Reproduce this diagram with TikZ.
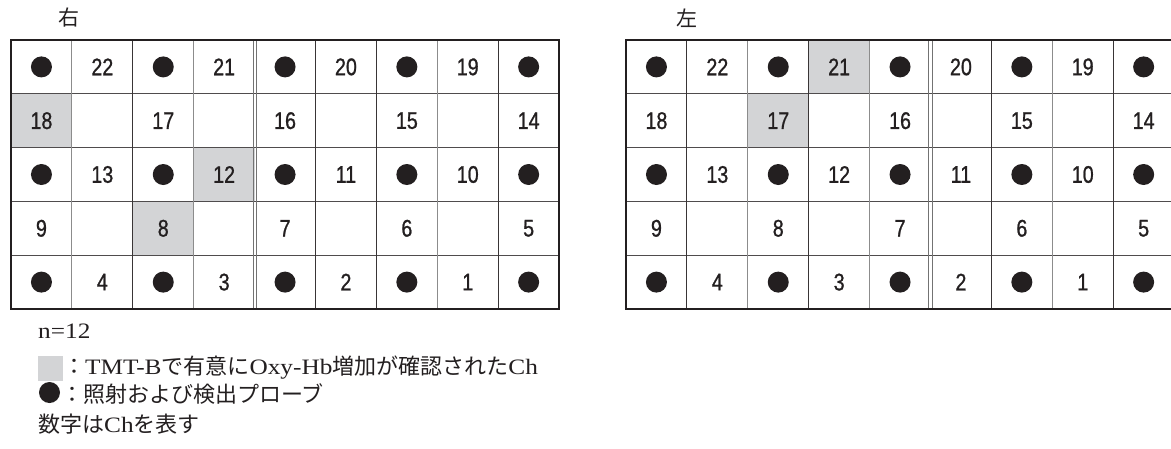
\documentclass[tikz,border=0pt]{standalone}
\usepackage{fontspec}
\setmainfont{Liberation Serif}
\newfontfamily\jp{Noto Sans CJK JP}
\newfontfamily\lat[FakeStretch=1.15]{Liberation Serif}
\newfontfamily\cellfont[FakeStretch=0.82,FakeBold=0.9]{Liberation Sans}
\definecolor{hlgray}{HTML}{D3D4D6}
\definecolor{ink}{HTML}{231F20}
\tikzset{
  cellnum/.style={font=\cellfont\fontsize{24}{24}\selectfont, text=ink, inner sep=0pt},
  probe/.style={circle, fill=ink, minimum size=21pt, inner sep=0pt},
  hlcell/.style={fill=hlgray, draw=none},
  outerline/.style={line width=2.6pt, draw=ink},
  darkline/.style={line width=1pt, draw=ink!90},
  grayline/.style={line width=1.1pt, draw=black!45},
  hline/.style={line width=1pt, draw=ink!80},
  dblline/.style={line width=1pt, draw=black!55},
  sidelabel/.style={font=\jp\fontsize{21}{21}\selectfont, text=ink, inner sep=0pt},
  legend/.style={font=\lat\fontsize{22}{22}\selectfont, text=ink, inner sep=0pt, anchor=west},
}
\def\Pmark{P}
\begin{document}
\begin{tikzpicture}[x=1pt,y=-1pt]
\useasboundingbox (0,0) rectangle (1171,448);
\fill[white] (0,0) rectangle (1171,448);
\def\W{60.9}
\def\H{53.8}
\def\Yt{40}
% ---------- highlighted cells ----------
\foreach \gx/\r/\c in {11/2/1, 11/3/4, 11/4/3, 626/1/4, 626/2/3}{
  \fill[hlcell] ({\gx+(\c-1)*\W},{\Yt+(\r-1)*\H}) rectangle ({\gx+\c*\W},{\Yt+\r*\H});
}
% ---------- grids ----------
\foreach \gx/\gname/\dk/\vcols in {11/L/4/{gray,dark,gray,none,dark,dark,gray,dark}, 626/R/5/{dark,gray,dark,gray,none,dark,gray,dark}}{
  \foreach \r in {1,...,4}{
    \draw[hline] (\gx,{\Yt+\r*\H}) -- ({\gx+9*\W},{\Yt+\r*\H});
  }
  \foreach \s [count=\k] in \vcols {
    \ifnum\k=\dk
      \draw[dblline] ({\gx+\k*\W-1.6},\Yt) -- ({\gx+\k*\W-1.6},{\Yt+5*\H});
      \draw[dblline] ({\gx+\k*\W+1.6},\Yt) -- ({\gx+\k*\W+1.6},{\Yt+5*\H});
    \else
      \draw[\s line] ({\gx+\k*\W},\Yt) -- ({\gx+\k*\W},{\Yt+5*\H});
    \fi
  }
  \draw[outerline] (\gx,\Yt) rectangle ({\gx+9*\W},{\Yt+5*\H});
  \foreach \row [count=\r] in {{P,22,P,21,P,20,P,19,P},{18,,17,,16,,15,,14},{P,13,P,12,P,11,P,10,P},{9,,8,,7,,6,,5},{P,4,P,3,P,2,P,1,P}}{
    \foreach \v [count=\c] in \row {
      \ifx\v\Pmark
        \node[probe] (\gname-\r-\c) at ({\gx+(\c-0.5)*\W},{\Yt+(\r-0.5)*\H}) {};
      \else
        \node[cellnum] (\gname-\r-\c) at ({\gx+(\c-0.5)*\W},{\Yt+(\r-0.5)*\H}) {\v};
      \fi
    }
  }
}
% ---------- side labels ----------
\node[sidelabel] (right) at (69,18) {右};
\node[sidelabel] (left) at (687,18) {左};
% ---------- legend ----------
\node[legend] (n) at (38,331) {n=12};
\node[fill=hlgray, minimum width=25pt, minimum height=25pt, inner sep=0pt] (sq) at (50.5,368.5) {};
\node[legend] (l1) at (63,368) {{\jp ：}TMT-B{\jp で有意に}Oxy-Hb{\jp 増加が確認された}Ch};
\node[circle, fill=ink, minimum size=21pt, inner sep=0pt] (dot) at (49.5,392.5) {};
\node[legend] (l2) at (61,394) {\jp ：照射および検出プローブ};
\node[legend] (l3) at (38,424) {{\jp 数字は}Ch{\jp を表す}};
\end{tikzpicture}
\end{document}
